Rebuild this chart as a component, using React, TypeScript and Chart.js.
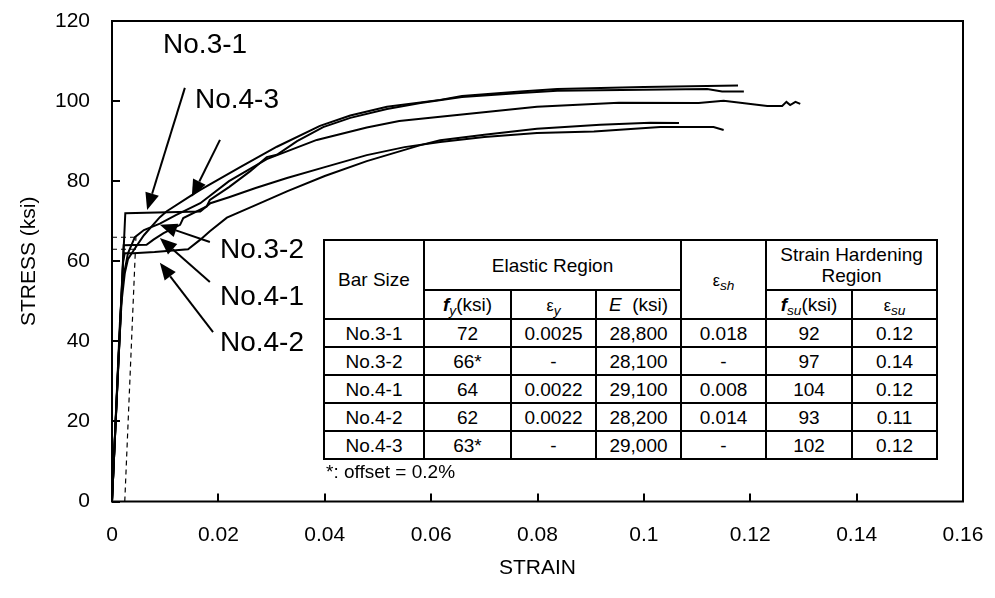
import React, { useEffect, useRef } from "react";
import { Chart, registerables } from "chart.js";

Chart.register(...registerables);

// ---------- data (strain, stress in ksi) ----------
const xTickStep = 0.02;
const yTickStep = 20;

const no31: [number, number][] = [
  [0, 0], [0.0025, 72], [0.0166, 72.4], [0.0185, 74.5], [0.022, 76], [0.027, 78.3],
  [0.0329, 80.8], [0.04, 83.5], [0.0479, 86.5], [0.055, 88.5], [0.0617, 89.8],
  [0.07, 91], [0.0799, 92], [0.0906, 92.4], [0.1031, 93.5], [0.1131, 93.5], [0.115, 92.8],
];
const no32: [number, number][] = [
  [0, 0], [0.0015, 45], [0.002, 55], [0.003, 62], [0.0043, 66], [0.006, 67.8],
  [0.009, 69.4], [0.012, 71.5], [0.0166, 74.5], [0.022, 80], [0.0291, 85.5],
  [0.0385, 90.3], [0.0479, 93.4], [0.054, 95], [0.0617, 96.1], [0.0799, 98.6],
  [0.0953, 99.6], [0.1103, 99.5], [0.115, 100.1], [0.1232, 98.8], [0.126, 98.8],
  [0.1268, 99.8], [0.1275, 99.0], [0.1285, 99.8], [0.1294, 99.3],
];
const no41: [number, number][] = [
  [0, 0], [0.0022, 64], [0.0065, 64.1], [0.0078, 65.4], [0.0097, 67], [0.0128, 69.1],
  [0.0134, 70.8], [0.0178, 73.7], [0.0184, 75.3], [0.022, 78.5], [0.026, 82.5],
  [0.0291, 86], [0.031, 86.6], [0.0348, 90], [0.0397, 93.5], [0.0448, 95.8], [0.0517, 98],
  [0.058, 99.5], [0.0658, 101], [0.0768, 102], [0.0837, 102.6], [0.1119, 103],
  [0.1147, 102.4], [0.1188, 102.4],
];
const no42: [number, number][] = [
  [0, 0], [0.0021, 60], [0.0024, 62], [0.004, 62], [0.008, 62.3], [0.0143, 63],
  [0.0166, 65.4], [0.0184, 67.5], [0.0216, 70.9], [0.027, 74], [0.033, 77.5],
  [0.04, 81.3], [0.0479, 85], [0.058, 89], [0.0617, 90.2], [0.07, 91.6], [0.0799, 93.1],
  [0.0918, 94.1], [0.1012, 94.6], [0.1066, 94.5],
];
const no43: [number, number][] = [
  [0, 0], [0.0012, 35], [0.0018, 50], [0.0024, 57], [0.003, 60.5], [0.0042, 63],
  [0.006, 66.5], [0.009, 71], [0.0103, 72.5], [0.015, 76.5], [0.0166, 77.8],
  [0.0241, 83.5], [0.031, 88.6], [0.0391, 93.8], [0.0448, 96.4], [0.0517, 98.6],
  [0.0617, 100.3], [0.0658, 101.3], [0.0768, 102.4], [0.0837, 103], [0.1, 103.5],
  [0.1177, 103.9],
];
// 0.2% offset construction (dashed)
const offsetLine: [number, number][] = [[0.0024, 0], [0.0045, 66]];
const offsetYield32: [number, number][] = [[0, 66], [0.0045, 66]];
const offsetYield43: [number, number][] = [[0, 63], [0.0043, 63]];

// ---------- table ----------
const barSizes = ["No.3-1", "No.3-2", "No.4-1", "No.4-2", "No.4-3"];
const fy = ["72", "66*", "64", "62", "63*"];
const epsY = ["0.0025", "-", "0.0022", "0.0022", "-"];
const modE = ["28,800", "28,100", "29,100", "28,200", "29,000"];
const epsSh = ["0.018", "-", "0.008", "0.014", "-"];
const fsu = ["92", "97", "104", "93", "102"];
const epsSu = ["0.12", "0.14", "0.12", "0.11", "0.12"];

// ---------- annotations (data units) ----------
const annotations = [
  { text: "No.3-1", tx: 0.0175, ty: 114.0, align: "center", from: [0.0137, 103.3], to: [0.0066, 72.8] },
  { text: "No.4-3", tx: 0.0235, ty: 100.2, align: "center", from: [0.0203, 90.3], to: [0.015, 76.1] },
  { text: "No.3-2", tx: 0.0203, ty: 62.8, align: "left", from: [0.0184, 64.8], to: [0.009, 69.1] },
  { text: "No.4-1", tx: 0.0203, ty: 51.1, align: "left", from: [0.0184, 54.8], to: [0.009, 65.8] },
  { text: "No.4-2", tx: 0.0203, ty: 39.6, align: "left", from: [0.019, 42.3], to: [0.009, 59.6] },
];

const FONT = '"Liberation Sans", Arial, sans-serif';

function drawArrow(ctx: CanvasRenderingContext2D, x1: number, y1: number, x2: number, y2: number) {
  const ang = Math.atan2(y2 - y1, x2 - x1);
  const L = 17, W = 7;
  const bx = x2 - L * Math.cos(ang), by = y2 - L * Math.sin(ang);
  ctx.beginPath();
  ctx.moveTo(x1, y1);
  ctx.lineTo(bx, by);
  ctx.stroke();
  ctx.beginPath();
  ctx.moveTo(x2, y2);
  ctx.lineTo(bx + W * Math.sin(ang), by - W * Math.cos(ang));
  ctx.lineTo(bx - W * Math.sin(ang), by + W * Math.cos(ang));
  ctx.closePath();
  ctx.fill();
}

const decorPlugin = {
  id: "decor",
  afterDatasetsDraw(chart: any) {
    const { ctx, chartArea, scales } = chart;
    const x = scales.x, y = scales.y;
    ctx.save();
    ctx.strokeStyle = "#000";
    ctx.fillStyle = "#000";
    ctx.lineWidth = 2;
    ctx.strokeRect(chartArea.left, chartArea.top, chartArea.right - chartArea.left, chartArea.bottom - chartArea.top);
    // inside tick marks
    ctx.beginPath();
    for (const t of x.ticks) {
      const px = Math.round(x.getPixelForValue(t.value));
      ctx.moveTo(px, chartArea.bottom);
      ctx.lineTo(px, chartArea.bottom - 8);
    }
    for (const t of y.ticks) {
      const py = Math.round(y.getPixelForValue(t.value));
      ctx.moveTo(chartArea.left, py);
      ctx.lineTo(chartArea.left + 8, py);
    }
    ctx.stroke();
    // labels and arrows
    ctx.font = `28px ${FONT}`;
    ctx.textBaseline = "middle";
    for (const a of annotations) {
      ctx.textAlign = a.align as CanvasTextAlign;
      ctx.fillText(a.text, x.getPixelForValue(a.tx), y.getPixelForValue(a.ty));
      drawArrow(
        ctx,
        x.getPixelForValue(a.from[0]), y.getPixelForValue(a.from[1]),
        x.getPixelForValue(a.to[0]), y.getPixelForValue(a.to[1])
      );
    }
    ctx.restore();
  },
};

function toPts(arr: [number, number][]) {
  return arr.map(([sx, sy]) => ({ x: sx, y: sy }));
}

const solid = (label: string, arr: [number, number][]) => ({
  label,
  data: toPts(arr),
  borderColor: "#000",
  borderWidth: 2,
  pointRadius: 0,
  tension: 0,
  fill: false,
});
const dashed = (label: string, arr: [number, number][]) => ({
  label,
  data: toPts(arr),
  borderColor: "#000",
  borderWidth: 1.2,
  borderDash: [5, 4],
  pointRadius: 0,
  tension: 0,
  fill: false,
});

export default function App() {
  const ref = useRef<HTMLCanvasElement | null>(null);
  useEffect(() => {
    if (!ref.current) return;
    const chart = new Chart(ref.current, {
      type: "line",
      data: {
        datasets: [
          dashed("offset", offsetLine),
          dashed("fy 3-2", offsetYield32),
          dashed("fy 4-3", offsetYield43),
          solid("No.3-1", no31),
          solid("No.3-2", no32),
          solid("No.4-1", no41),
          solid("No.4-2", no42),
          solid("No.4-3", no43),
        ] as any,
      },
      options: {
        responsive: false,
        animation: false,
        parsing: false as any,
        layout: { padding: { left: 0, right: 32, top: 21, bottom: 0 } },
        plugins: { legend: { display: false }, tooltip: { enabled: false } },
        scales: {
          x: {
            type: "linear",
            min: 0,
            max: 0.16,
            afterFit: (s: any) => { s.height = 96.5; s.paddingLeft = 0; s.paddingRight = 0; },
            ticks: {
              stepSize: xTickStep,
              autoSkip: false,
              maxRotation: 0,
              padding: 21,
              color: "#000",
              font: { family: FONT, size: 21 },
              callback: (v: any) => String(Number(Number(v).toFixed(2))),
            },
            grid: { display: false, drawTicks: false },
            border: { display: false },
            title: { display: true, text: "STRAIN", color: "#000", font: { family: FONT, size: 21 }, padding: { top: 0, bottom: 17 } },
          },
          y: {
            type: "linear",
            min: 0,
            max: 120,
            afterFit: (s: any) => { s.width = 112; s.paddingTop = 0; s.paddingBottom = 0; },
            ticks: {
              stepSize: yTickStep,
              padding: 22,
              color: "#000",
              font: { family: FONT, size: 21 },
            },
            grid: { display: false, drawTicks: false },
            border: { display: false },
            title: { display: true, text: "STRESS (ksi)", color: "#000", font: { family: FONT, size: 21 }, padding: { top: 17, bottom: 0 } },
          },
        },
      },
      plugins: [decorPlugin],
    });
    return () => chart.destroy();
  }, []);

  const cell: React.CSSProperties = { border: "2px solid #000", padding: 0, textAlign: "center", verticalAlign: "middle" };
  const sub: React.CSSProperties = { fontSize: "0.72em", verticalAlign: "-0.3em", lineHeight: 0, fontStyle: "italic" };
  const eps: React.CSSProperties = { fontSize: "0.85em" };
  const colW = [100, 87, 85, 85, 85, 86, 85];

  return (
    <div style={{ position: "absolute", left: 0, top: 0, width: 995, height: 598, background: "#fff" }}>
      <canvas ref={ref} width={995} height={598} style={{ display: "block" }} />
      <table
        style={{
          position: "absolute", left: 323, top: 239, borderCollapse: "collapse", tableLayout: "fixed",
          width: 613, fontFamily: FONT, fontSize: 19, color: "#000", background: "#fff", lineHeight: "21px",
        }}
      >
        <colgroup>
          {colW.map((w, i) => <col key={i} style={{ width: w }} />)}
        </colgroup>
        <tbody>
          <tr style={{ height: 50 }}>
            <td style={cell} rowSpan={2}>Bar Size</td>
            <td style={cell} colSpan={3}>Elastic Region</td>
            <td style={cell} rowSpan={2}><span style={eps}>ε</span><span style={sub}>sh</span></td>
            <td style={cell} colSpan={2}>Strain Hardening<br />Region</td>
          </tr>
          <tr style={{ height: 29 }}>
            <td style={cell}><b><i>f</i></b><span style={sub}>y</span>(ksi)</td>
            <td style={cell}><span style={eps}>ε</span><span style={sub}>y</span></td>
            <td style={cell}><i>E</i>&nbsp; (ksi)</td>
            <td style={cell}><b><i>f</i></b><span style={sub}>su</span>(ksi)</td>
            <td style={cell}><span style={eps}>ε</span><span style={sub}>su</span></td>
          </tr>
          {barSizes.map((b, i) => (
            <tr key={b} style={{ height: 28 }}>
              <td style={cell}>{b}</td>
              <td style={cell}>{fy[i]}</td>
              <td style={cell}>{epsY[i]}</td>
              <td style={cell}>{modE[i]}</td>
              <td style={cell}>{epsSh[i]}</td>
              <td style={cell}>{fsu[i]}</td>
              <td style={cell}>{epsSu[i]}</td>
            </tr>
          ))}
        </tbody>
      </table>
      <div style={{ position: "absolute", left: 326, top: 461, fontFamily: FONT, fontSize: 19, lineHeight: "21px", color: "#000" }}>
        *: offset = 0.2%
      </div>
    </div>
  );
}
